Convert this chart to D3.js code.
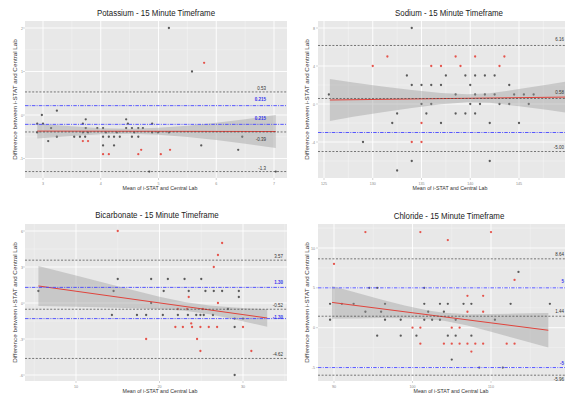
<!DOCTYPE html>
<html><head><meta charset="utf-8">
<script src="https://cdn.jsdelivr.net/npm/d3@7"></script>
<style>html,body{margin:0;padding:0;background:#fff;overflow:hidden}</style>
</head><body>
<svg id="c" width="565" height="396"></svg>
<script>
// ---------------- DATA ----------------
// Potassium
const kTitle = "Potassium - 15 Minute Timeframe";
const kTicksX = [3, 4, 5, 6, 7];
const kTicksY = [-1, 0, 1, 2];
const kPoints = [
  [5.18,2.0,'k'],[5.79,1.2,'r'],[5.58,1.0,'k'],[2.98,0.0,'k'],[3.24,0.1,'k'],[3.74,-0.1,'k'],[4.44,-0.1,'k'],
  [2.90,-0.2,'k'],[3.00,-0.2,'k'],[3.69,-0.2,'k'],[4.47,-0.2,'k'],[4.89,-0.2,'k'],
  [3.14,-0.3,'k'],[3.74,-0.3,'k'],[3.94,-0.3,'k'],[4.04,-0.3,'k'],[4.44,-0.3,'k'],[4.54,-0.3,'k'],[4.65,-0.3,'k'],[4.73,-0.3,'k'],
  [2.90,-0.4,'k'],[3.69,-0.4,'k'],[3.78,-0.4,'k'],[4.09,-0.4,'k'],[4.28,-0.4,'k'],[4.58,-0.4,'k'],[4.89,-0.4,'k'],[4.99,-0.4,'k'],[5.18,-0.4,'k'],
  [3.24,-0.5,'k'],[3.54,-0.5,'k'],[3.64,-0.5,'k'],[3.73,-0.5,'k'],[4.04,-0.5,'k'],[4.14,-0.5,'k'],[4.23,-0.5,'k'],[4.33,-0.5,'k'],[4.54,-0.5,'k'],[4.65,-0.5,'k'],[6.45,-0.5,'k'],
  [3.09,-0.6,'k'],[3.69,-0.6,'r'],[3.78,-0.6,'r'],
  [4.04,-0.7,'k'],[4.23,-0.7,'k'],[5.74,-0.7,'k'],
  [4.70,-0.8,'r'],[5.20,-0.8,'r'],[6.38,-0.8,'k'],
  [4.04,-0.9,'r'],[4.14,-0.9,'r'],[4.65,-0.9,'r'],[5.04,-0.9,'r'],
  [4.84,-1.3,'k'],[7.03,-1.3,'k']
];
const kLoa = [0.53, -0.39, -1.3];
const kLoaLabels = ["0.53", "-0.39", "-1.3"];
const kLimits = [0.215, -0.215];
const kLimitLabels = ["0.215", "0.215"];
const kFitX = [2.90, 7.03];
const kFitY = [-0.37, -0.38];
const kBandX  = [2.90, 3.5, 4.0, 4.5, 5.0, 5.5, 6.0, 6.5, 7.03];
const kBandHW = [0.17, 0.11, 0.07, 0.06, 0.08, 0.13, 0.20, 0.28, 0.38];

// Sodium
const naTitle = "Sodium - 15 Minute Timeframe";
const naTicksX = [125, 130, 135, 140, 145, 150];
const naTicksY = [-4, 0, 4, 8];
const naPoints = [
  [134,8,'k'],
  [131.5,5,'r'],[138.5,5,'r'],[140.5,5,'r'],[143.5,5,'r'],
  [130,4,'r'],[136,4,'r'],[137,4,'r'],[139,4,'r'],[143,4,'r'],
  [133.5,3,'k'],[137.5,3,'k'],[139.5,3,'k'],[140.5,3,'k'],[141.5,3,'k'],[142.5,3,'k'],
  [134,2,'k'],[135,2,'k'],[136,2,'k'],[137,2,'k'],[140,2,'k'],[144,2,'k'],
  [125.5,1,'k'],[138.5,1,'k'],[140.5,1,'k'],[141.5,1,'k'],[142.5,1,'k'],[144.5,1,'k'],[145.5,1,'k'],[146.5,1,'k'],
  [135,0,'k'],[136,0,'k'],[140,0,'k'],[141,0,'k'],[143,0,'k'],[144,0,'k'],[146,0,'k'],
  [132.5,-1,'k'],[135.5,-1,'k'],[138.5,-1,'k'],[139.5,-1,'k'],[140.5,-1,'k'],
  [132,-2,'k'],[135,-2,'r'],[137,-2,'k'],[142,-2,'k'],[145,-2,'k'],
  [129,-4,'k'],[134,-4,'r'],[135,-4,'r'],
  [134,-6,'k'],[142,-6,'k'],
  [132.5,-7,'k']
];
const naLoa = [6.16, 0.58, -5.0];
const naLoaLabels = ["6.16", "0.58", "-5.00"];
const naLimits = [-3];
const naLimitLabels = [""];
const naFitX = [125.6, 151.5];
const naFitY = [0.42, 0.75];
const naBandX  = [125.6, 128, 131, 134, 137, 139.7, 142, 145, 148, 151.5];
const naBandHW = [2.2, 1.8, 1.35, 0.95, 0.6, 0.42, 0.5, 0.9, 1.35, 1.9];

// Bicarbonate
const hcoTitle = "Bicarbonate - 15 Minute Timeframe";
const hcoTicksX = [10, 20, 30];
const hcoTicksY = [-6, -3, 0, 3, 6];
const hcoPoints = [
  [15,6,'r'],[27.5,5,'r'],[27,4,'r'],[26.5,3,'r'],
  [15,2,'k'],[19,2,'k'],[21,2,'k'],[23,2,'k'],[25,2,'k'],
  [5.5,1,'k'],[14.5,1,'k'],[20.5,1,'k'],[23.5,1,'k'],[25.5,1,'k'],[26.5,1,'k'],[27.5,1,'k'],[29.5,1,'k'],
  [23.5,0.5,'r'],[29.5,0.5,'k'],[19,0,'k'],[27,0,'r'],
  [22.2,-0.5,'r'],[23.3,-0.5,'r'],[25.2,-0.5,'r'],[28.2,-0.5,'k'],
  [14.3,-1,'k'],[17.3,-1,'k'],[18.4,-1,'k'],[20.4,-1,'k'],[22.2,-1,'k'],[23.4,-1,'k'],[24.4,-1,'k'],[24.9,-1,'k'],[25.3,-1,'k'],[26.4,-1,'k'],
  [29,-1.3,'k'],[30,-1.3,'k'],
  [23.8,-1.7,'r'],
  [21.9,-2,'r'],[22.8,-2,'r'],[23.9,-2,'r'],[24.9,-2,'r'],[25.9,-2,'r'],[26.9,-2,'r'],[29,-2,'k'],[30,-2,'r'],
  [18.4,-3,'r'],[24.5,-3,'r'],
  [24.9,-4,'r'],[31,-4,'r'],
  [29,-6,'k']
];
const hcoLoa = [3.57, -0.52, -4.62];
const hcoLoaLabels = ["3.57", "-0.52", "-4.62"];
const hcoLimits = [1.30, -1.30];
const hcoLimitLabels = ["1.30", "-1.30"];
const hcoFitX = [5.5, 32.9];
const hcoFitY = [1.42, -1.25];
const hcoBandX  = [5.5, 10, 15, 20, 23, 26, 29, 32.9];
const hcoBandHW = [1.67, 1.3, 0.9, 0.52, 0.36, 0.36, 0.5, 0.72];

// Chloride
const clTitle = "Chloride - 15 Minute Timeframe";
const clTicksX = [90, 100, 110, 120];
const clTicksY = [-5, 0, 5, 10];
const clPoints = [
  [94,12,'r'],[101,12,'r'],[110,12,'r'],[104.5,11,'r'],[90,8,'r'],[113.5,7,'k'],[113,6,'r'],
  [94.5,5,'k'],[95.5,5,'k'],[101.5,5,'k'],
  [107,4,'r'],[109,4,'r'],
  [89.5,3,'k'],[91,3,'k'],[92.5,3,'k'],[96.5,3,'k'],[101.5,3,'k'],[103.5,3,'k'],[104.5,3,'k'],[106.5,3,'k'],[107.5,3,'k'],[112.5,3,'k'],[117.5,3,'k'],
  [94,2,'k'],[96,2,'k'],[102,2,'k'],[104,2,'k'],[107,2,'r'],[109,2,'r'],
  [89.5,1,'k'],[96.5,1,'k'],[98.5,1,'k'],[101.5,1,'k'],[102.5,1,'k'],[103.5,1,'k'],[105.5,1,'k'],[110.5,1,'k'],
  [100,0,'r'],[101,0,'r'],[105,0,'r'],[106,0,'r'],
  [95.5,-1,'k'],[98.5,-1,'k'],[100.5,-1,'k'],[104.5,-1,'k'],[105.5,-1,'k'],[107.5,-1,'k'],
  [101,-2,'r'],[104,-2,'r'],[105,-2,'r'],[106,-2,'r'],[107,-2,'r'],[108,-2,'r'],[109,-2,'r'],[112,-2,'r'],[113,-2,'r'],
  [107.5,-3,'r'],[105,-4,'k'],[108.5,-5,'k'],[111.5,-5,'k']
];
const clLoa = [8.64, 1.44, -5.96];
const clLoaLabels = ["8.64", "1.44", "-5.96"];
const clLimits = [5, -5];
const clLimitLabels = ["5", "-5"];
const clFitX = [89.75, 117.3];
const clFitY = [3.17, -0.32];
const clBandX  = [89.75, 93, 96, 99, 102, 104, 107, 110, 113, 117.3];
const clBandHW = [2.06, 1.6, 1.15, 0.8, 0.55, 0.5, 0.7, 1.1, 1.55, 2.16];

const yTitle = "Difference between i-STAT and Central Lab";
const xTitle = "Mean of i-STAT and Central Lab";

// ---------------- LAYOUT ----------------
const panels = [
  {title:kTitle, pts:kPoints, tx:kTicksX, ty:kTicksY, loa:kLoa, loaL:kLoaLabels, lim:kLimits, limL:kLimitLabels,
   fitX:kFitX, fitY:kFitY, bX:kBandX, bH:kBandHW,
   box:[25,287,21,178], xr:[[3,43],[7,274]], yr:[[0,115],[2,28]],
   titleX:156, titleY:16, xTitleX:160, xTitleY:190, yTitleX:17, tickLX:23, tickLY:185,
   labX:266, labAnchor:'end', loaDy:[-2,9,-2], limDy:[-5,-4]},
  {title:naTitle, pts:naPoints, tx:naTicksX, ty:naTicksY, loa:naLoa, loaL:naLoaLabels, lim:naLimits, limL:naLimitLabels,
   fitX:naFitX, fitY:naFitY, bX:naBandX, bH:naBandHW,
   box:[318,580,21,178], xr:[[125,324],[145,519]], yr:[[0,104],[8,28]],
   titleX:449, titleY:16, xTitleX:450, xTitleY:190, yTitleX:309, tickLX:315, tickLY:185,
   labX:564, labAnchor:'end', loaDy:[-4,-4.5,-3], limDy:[-4]},
  {title:hcoTitle, pts:hcoPoints, tx:hcoTicksX, ty:hcoTicksY, loa:hcoLoa, loaL:hcoLoaLabels, lim:hcoLimits, limL:hcoLimitLabels,
   fitX:hcoFitX, fitY:hcoFitY, bX:hcoBandX, bH:hcoBandHW,
   box:[25,287,224,381], xr:[[10,76],[30,243]], yr:[[0,303],[6,231]],
   titleX:157, titleY:218, xTitleX:160, xTitleY:393, yTitleX:17, tickLX:23, tickLY:388,
   labX:283, labAnchor:'end', loaDy:[-2,-2,-2], limDy:[-3,0]},
  {title:clTitle, pts:clPoints, tx:clTicksX, ty:clTicksY, loa:clLoa, loaL:clLoaLabels, lim:clLimits, limL:clLimitLabels,
   fitX:clFitX, fitY:clFitY, bX:clBandX, bH:clBandHW,
   box:[318,580,224,381], xr:[[90,334],[110,491]], yr:[[0,327.7],[10,248]],
   titleX:449, titleY:219, xTitleX:451, xTitleY:393, yTitleX:309, tickLX:315, tickLY:388,
   labX:564, labAnchor:'end', loaDy:[-3,-3,5.5], limDy:[-5,-3]}
];

const SX = 0.85; // horizontal squeeze of the original figure
const FONT = "'Liberation Sans', Arial, Helvetica, sans-serif";
const svg = d3.select("#c");
svg.append("rect").attr("width",565).attr("height",396).attr("fill","#fff");

function txt(g, x, y, s, size, color, anchor, rot) {
  return g.append("text")
    .attr("transform", rot ? `translate(${x},${y}) rotate(-90) scale(1,${SX})` : `translate(${x},${y}) scale(${SX},1)`)
    .attr("font-family", FONT).attr("font-size", size).attr("fill", color)
    .attr("text-anchor", anchor || "middle").text(s);
}

panels.forEach((p, i) => {
  const [L, R, T, B] = p.box;
  const x = d3.scaleLinear().domain([p.xr[0][0], p.xr[1][0]]).range([p.xr[0][1], p.xr[1][1]]);
  const y = d3.scaleLinear().domain([p.yr[0][0], p.yr[1][0]]).range([p.yr[0][1], p.yr[1][1]]);
  const g = svg.append("g");
  const cid = "clip" + i;
  g.append("clipPath").attr("id", cid).append("rect").attr("x", L).attr("y", T).attr("width", R - L).attr("height", B - T);

  g.append("rect").attr("x", L).attr("y", T).attr("width", R - L).attr("height", B - T).attr("fill", "#e8e8e8");
  const pg = g.append("g").attr("clip-path", `url(#${cid})`);

  // minor grid
  const dx = p.tx[1] - p.tx[0], dy = p.ty[1] - p.ty[0];
  const mx = d3.range(p.tx[0] - dx * 1.5, p.tx[p.tx.length - 1] + dx * 1.6, dx);
  const my = d3.range(p.ty[0] - dy * 1.5, p.ty[p.ty.length - 1] + dy * 1.6, dy);
  mx.forEach(v => pg.append("line").attr("x1", x(v)).attr("x2", x(v)).attr("y1", T).attr("y2", B).attr("stroke", "#f4f4f4").attr("stroke-width", 0.5));
  my.forEach(v => pg.append("line").attr("y1", y(v)).attr("y2", y(v)).attr("x1", L).attr("x2", R).attr("stroke", "#f4f4f4").attr("stroke-width", 0.5));
  // major grid
  p.tx.forEach(v => pg.append("line").attr("x1", x(v)).attr("x2", x(v)).attr("y1", T).attr("y2", B).attr("stroke", "#fff").attr("stroke-width", 0.9));
  p.ty.forEach(v => pg.append("line").attr("y1", y(v)).attr("y2", y(v)).attr("x1", L).attr("x2", R).attr("stroke", "#fff").attr("stroke-width", 0.9));

  // points
  pg.selectAll("circle.pt").data(p.pts).enter().append("circle")
    .attr("cx", d => x(d[0])).attr("cy", d => y(d[1])).attr("r", 1.15)
    .attr("fill", d => d[2] === 'r' ? "#e5544c" : "#5a5a5a");

  // regression band + line
  const fit = d3.scaleLinear().domain(p.fitX).range(p.fitY);
  const band = p.bX.map((v, k) => [v, fit(v) - p.bH[k], fit(v) + p.bH[k]]);
  pg.append("path").datum(band)
    .attr("d", d3.area().x(d => x(d[0])).y0(d => y(d[1])).y1(d => y(d[2])))
    .attr("fill", "#999").attr("fill-opacity", 0.4);
  pg.append("line").attr("x1", x(p.fitX[0])).attr("x2", x(p.fitX[1]))
    .attr("y1", y(p.fitY[0])).attr("y2", y(p.fitY[1]))
    .attr("stroke", "#e0443c").attr("stroke-width", 1);

  // limits of agreement (black dashed) and clinical limits (blue dot-dash)
  p.loa.forEach(v => pg.append("line").attr("x1", L).attr("x2", R).attr("y1", y(v)).attr("y2", y(v))
    .attr("stroke", "#444").attr("stroke-width", 0.7).attr("stroke-dasharray", "2,1.6"));
  p.lim.forEach(v => pg.append("line").attr("x1", L).attr("x2", R).attr("y1", y(v)).attr("y2", y(v))
    .attr("stroke", "#4646ff").attr("stroke-width", 0.9).attr("stroke-dasharray", "3.5,1.2,1,1.2"));

  // labels
  p.loa.forEach((v, k) => txt(g, p.labX, y(v) + p.loaDy[k], p.loaL[k], 5.3, "#333", p.labAnchor));
  p.lim.forEach((v, k) => { if (p.limL[k]) txt(g, p.labX, y(v) + p.limDy[k], p.limL[k], 5.3, "#3535ee", p.labAnchor).attr("font-weight", "bold"); });

  // ticks
  p.tx.forEach(v => {
    if (x(v) < L || x(v) > Math.min(R, 556)) return;
    g.append("line").attr("x1", x(v)).attr("x2", x(v)).attr("y1", B).attr("y2", B + 2).attr("stroke", "#aaa").attr("stroke-width", 0.5);
    txt(g, x(v), p.tickLY, String(v), 4.3, "#888", "middle");
  });
  p.ty.forEach(v => {
    g.append("line").attr("x1", L - 2).attr("x2", L).attr("y1", y(v)).attr("y2", y(v)).attr("stroke", "#aaa").attr("stroke-width", 0.5);
    txt(g, p.tickLX, y(v) + 1.5, String(v), 4.3, "#888", "end");
  });

  // titles
  txt(g, p.titleX, p.titleY, p.title, 9.3, "#222", "middle");
  txt(g, p.xTitleX, p.xTitleY, xTitle, 6.2, "#333", "middle");
  txt(g, p.yTitleX, (T + B) / 2, yTitle, 6.3, "#333", "middle", true);
});
</script></body></html>
